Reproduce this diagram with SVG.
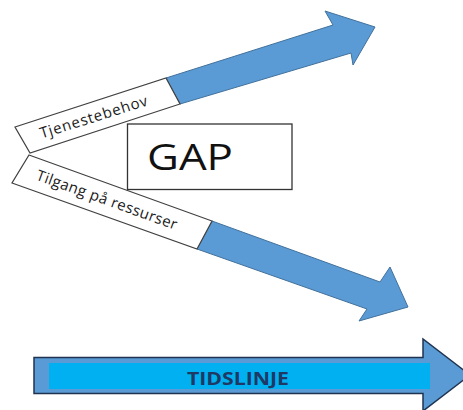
<svg xmlns="http://www.w3.org/2000/svg" width="463" height="410" viewBox="0 0 463 410">
<style>
.blue{fill:#5B9BD5;stroke:#41719C;stroke-width:1;stroke-linejoin:miter}
.label{fill:#FFFFFF;stroke:#404040;stroke-width:1.2}
.lt{font-family:"Open Sans","Liberation Sans",sans-serif;font-size:15px;fill:#1a1a1a;text-anchor:middle}
</style>
<rect width="463" height="410" fill="#FFFFFF"/>
<g id="tjenestebehov">
<polygon class="blue" points="166,78 333,25 325,11 375,27 353,65 351,53 180,104"/>
<polygon class="label" points="15,127 166,78 180,104 30,153"/>
<text class="lt" transform="translate(94,117) rotate(-17.4)" x="0" y="5" letter-spacing="0.8">Tjenestebehov</text>
</g>
<g id="tilgang">
<polygon class="blue" points="212,221 380,282 390,267 408,307 359,321 367,309 197,249"/>
<polygon class="label" points="29,155 212,221 197,249 12,183"/>
<text class="lt" transform="translate(107,200) rotate(19.8)" x="0" y="5" letter-spacing="0.4">Tilgang på ressurser</text>
</g>
<g id="gap">
<rect x="127.5" y="124" width="164.5" height="65.5" fill="#FFFFFF" stroke="#333333" stroke-width="1.3"/>
<text x="147" y="170" font-family="'Open Sans','Liberation Sans',sans-serif" font-size="37" fill="#111111" textLength="86" lengthAdjust="spacingAndGlyphs">GAP</text>
</g>
<g id="tidslinje">
<polygon points="34,357.5 423,357.5 423,339 470,375 423,411 423,393.5 34,393.5" fill="#5B9BD5" stroke="#1F3350" stroke-width="1.5"/>
<rect x="49" y="363" width="381" height="26" fill="#00B0F0"/>
<text x="238" y="385" font-family="'Open Sans','Liberation Sans',sans-serif" font-size="18" font-weight="bold" fill="#1F3864" text-anchor="middle" textLength="102" lengthAdjust="spacingAndGlyphs">TIDSLINJE</text>
</g>
</svg>
